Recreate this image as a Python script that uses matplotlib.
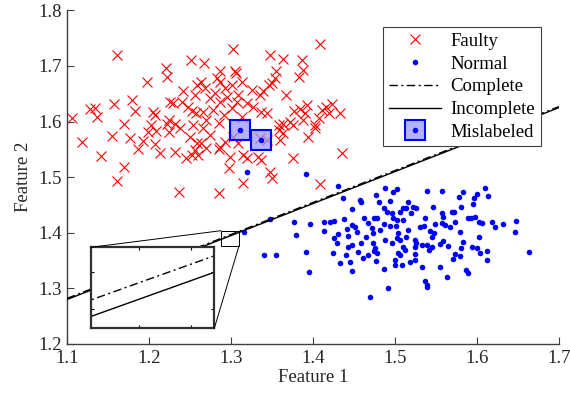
import matplotlib
matplotlib.use("Agg")
import matplotlib.pyplot as plt
from matplotlib.patches import Rectangle, ConnectionPatch
from matplotlib.legend_handler import HandlerTuple

plt.rcParams['font.family'] = ['Liberation Serif', 'DejaVu Serif']

# ---------------- data ----------------
faulty_x = [1.161, 1.251, 1.221, 1.222, 1.198, 1.242, 1.258, 1.179, 1.157, 1.128,
            1.134, 1.137, 1.183, 1.106, 1.205, 1.207, 1.225, 1.229, 1.240, 1.248,
            1.252, 1.257, 1.256, 1.170, 1.203, 1.224, 1.222, 1.232, 1.254, 1.238,
            1.118, 1.142, 1.155, 1.170, 1.161, 1.177, 1.186, 1.193, 1.199, 1.209,
            1.207, 1.213, 1.224, 1.232, 1.236, 1.245, 1.250, 1.252, 1.256, 1.258,
            1.260,
            1.302, 1.409, 1.348, 1.364, 1.387, 1.388, 1.383, 1.267, 1.355, 1.354,
            1.350, 1.305, 1.306, 1.286, 1.283, 1.287, 1.264, 1.314, 1.301, 1.293,
            1.268, 1.281, 1.325, 1.339, 1.346, 1.335, 1.367, 1.308, 1.295, 1.274,
            1.287, 1.307, 1.319, 1.327, 1.337, 1.344, 1.301, 1.278, 1.266, 1.291,
            1.313, 1.377, 1.384, 1.393, 1.390, 1.411, 1.416, 1.423, 1.419, 1.433,
            1.407, 1.372, 1.364, 1.359, 1.403, 1.388, 1.376, 1.285, 1.270,
            1.266, 1.274, 1.264, 1.270, 1.285, 1.287, 1.293, 1.299, 1.297, 1.315,
            1.319, 1.333, 1.337, 1.348, 1.350, 1.315, 1.285, 1.358, 1.364, 1.360,
            1.376, 1.394, 1.403, 1.435, 1.408, 1.303, 1.309, 1.335, 1.344]
faulty_y = [1.720, 1.711, 1.697, 1.681, 1.672, 1.655, 1.666, 1.639, 1.631, 1.623,
            1.625, 1.609, 1.619, 1.606, 1.617, 1.612, 1.635, 1.633, 1.636, 1.627,
            1.619, 1.615, 1.648, 1.595, 1.593, 1.603, 1.595, 1.595, 1.594, 1.588,
            1.563, 1.539, 1.575, 1.519, 1.493, 1.570, 1.551, 1.565, 1.582, 1.583,
            1.559, 1.543, 1.582, 1.545, 1.473, 1.534, 1.573, 1.540, 1.549, 1.561,
            1.540,
            1.731, 1.739, 1.720, 1.713, 1.711, 1.693, 1.681, 1.705, 1.691, 1.678,
            1.669, 1.691, 1.687, 1.691, 1.678, 1.672, 1.672, 1.672, 1.666, 1.660,
            1.660, 1.651, 1.657, 1.655, 1.666, 1.648, 1.647, 1.648, 1.645, 1.642,
            1.636, 1.636, 1.633, 1.627, 1.618, 1.615, 1.624, 1.621, 1.618, 1.612,
            1.609, 1.619, 1.623, 1.629, 1.615, 1.621, 1.627, 1.631, 1.615, 1.615,
            1.606, 1.599, 1.595, 1.594, 1.594, 1.603, 1.594, 1.597, 1.603,
            1.588, 1.576, 1.561, 1.552, 1.551, 1.555, 1.564, 1.537, 1.517, 1.540,
            1.534, 1.537, 1.531, 1.510, 1.499, 1.489, 1.471, 1.585, 1.579, 1.567,
            1.534, 1.573, 1.588, 1.543, 1.487, 1.573, 1.561, 1.570, 1.567]

normal_x = [1.502, 1.498, 1.539, 1.557, 1.583, 1.578, 1.596, 1.600, 1.610, 1.613,
            1.595, 1.494, 1.516, 1.514, 1.510, 1.522, 1.526, 1.520, 1.506, 1.496,
            1.498, 1.502, 1.510, 1.546, 1.581, 1.557, 1.559, 1.569, 1.572, 1.537,
            1.494, 1.501, 1.516, 1.530, 1.535, 1.549, 1.557, 1.561, 1.567, 1.573,
            1.589, 1.593, 1.598, 1.602, 1.606, 1.618, 1.622, 1.632, 1.648, 1.646,
            1.543, 1.547, 1.545, 1.579, 1.602, 1.504, 1.514, 1.502, 1.496, 1.506,
            1.524, 1.526, 1.533, 1.539, 1.545, 1.555, 1.559, 1.565, 1.583, 1.581,
            1.594, 1.600, 1.612, 1.663, 1.510, 1.512, 1.504, 1.506, 1.524, 1.524,
            1.541, 1.573, 1.579, 1.571, 1.604, 1.612, 1.500, 1.500, 1.508, 1.518,
            1.524, 1.533, 1.555, 1.587, 1.589, 1.563, 1.537, 1.539, 1.539,
            1.319, 1.391, 1.430, 1.437, 1.488, 1.477, 1.348, 1.316, 1.377, 1.396,
            1.413, 1.421, 1.426, 1.438, 1.413, 1.379, 1.425, 1.430, 1.441, 1.443,
            1.429, 1.448, 1.451, 1.454, 1.457, 1.459, 1.448, 1.462, 1.467, 1.472,
            1.474, 1.478, 1.481, 1.486, 1.490, 1.487, 1.482, 1.473, 1.465, 1.459,
            1.447, 1.443, 1.473, 1.476, 1.474, 1.478, 1.477, 1.467, 1.461, 1.455,
            1.440, 1.424, 1.433, 1.445, 1.448, 1.488, 1.487, 1.491, 1.469, 1.391,
            1.395, 1.340, 1.355]
normal_y = [1.479, 1.474, 1.475, 1.475, 1.473, 1.465, 1.463, 1.469, 1.481, 1.467,
            1.451, 1.457, 1.456, 1.445, 1.444, 1.447, 1.444, 1.435, 1.438, 1.435,
            1.426, 1.423, 1.423, 1.446, 1.446, 1.435, 1.429, 1.437, 1.437, 1.426,
            1.413, 1.413, 1.405, 1.411, 1.413, 1.415, 1.417, 1.414, 1.410, 1.420,
            1.427, 1.426, 1.429, 1.420, 1.417, 1.420, 1.411, 1.415, 1.422, 1.401,
            1.403, 1.399, 1.393, 1.401, 1.392, 1.399, 1.393, 1.390, 1.381, 1.387,
            1.387, 1.381, 1.378, 1.378, 1.375, 1.379, 1.385, 1.377, 1.383, 1.373,
            1.375, 1.372, 1.367, 1.365, 1.375, 1.369, 1.363, 1.360, 1.375, 1.361,
            1.369, 1.361, 1.359, 1.353, 1.363, 1.351, 1.351, 1.342, 1.342, 1.348,
            1.351, 1.339, 1.339, 1.333, 1.327, 1.320, 1.313, 1.306, 1.303,
            1.509, 1.506, 1.485, 1.463, 1.481, 1.468, 1.425, 1.401, 1.420, 1.415,
            1.420, 1.420, 1.422, 1.425, 1.403, 1.396, 1.391, 1.398, 1.406, 1.394,
            1.382, 1.414, 1.411, 1.402, 1.459, 1.455, 1.442, 1.427, 1.417, 1.408,
            1.426, 1.426, 1.456, 1.444, 1.438, 1.415, 1.405, 1.399, 1.393, 1.382,
            1.378, 1.375, 1.381, 1.373, 1.367, 1.363, 1.349, 1.360, 1.355, 1.365,
            1.360, 1.363, 1.346, 1.348, 1.331, 1.387, 1.335, 1.301, 1.284, 1.365,
            1.330, 1.360, 1.360]

mislabeled_x = [1.311, 1.337]
mislabeled_y = [1.584, 1.567]

# decision boundaries (endpoints at x-limits)
line_x = [1.1, 1.7]
complete_y = [1.2820, 1.6270]
incomplete_y = [1.2800, 1.6252]

xticks = [1.1, 1.2, 1.3, 1.4, 1.5, 1.6, 1.7]
yticks = [1.2, 1.3, 1.4, 1.5, 1.6, 1.7, 1.8]

# ---------------- figure ----------------
fig = plt.figure(figsize=(5.70, 4.04), dpi=100)
ax = fig.add_axes([67/570, 1-344/404, 492/570, 333.6/404])

FS = 13.5
axcol = '#404040'
txtcol = '#262626'
dashdot = (0, (6, 2.5, 1.5, 2.5))

h_f, = ax.plot(faulty_x, faulty_y, 'x', color='red', ms=7.5, mew=0.8, zorder=2)
h_n, = ax.plot(normal_x, normal_y, 'o', color='blue', ms=4, mew=0, zorder=2)
h_c, = ax.plot(line_x, complete_y, color='black', ls=dashdot, lw=1.0, zorder=3)
h_i, = ax.plot(line_x, incomplete_y, color='black', ls='-', lw=1.0, zorder=3)
h_sq, = ax.plot(mislabeled_x, mislabeled_y, 's', ms=15, mfc=(0.6, 0.6, 1.0, 0.75),
                mec='blue', mew=1.5, zorder=4)
h_dot, = ax.plot(mislabeled_x, mislabeled_y, 'o', color='blue', ms=4, mew=0, zorder=5)

ax.set_xlim(1.1, 1.7)
ax.set_ylim(1.2, 1.8)
ax.set_xticks(xticks)
ax.set_yticks(yticks)
ax.set_xticklabels([f'{v:.1f}' for v in xticks], fontsize=FS)
ax.set_yticklabels([f'{v:.1f}' for v in yticks], fontsize=FS)
ax.tick_params(direction='in', length=5, width=0.8, color=axcol, labelcolor=txtcol, pad=4)
for s in ['top', 'right']:
    ax.spines[s].set_visible(False)
for s in ['left', 'bottom']:
    ax.spines[s].set_color(axcol)
    ax.spines[s].set_linewidth(1.0)
ax.set_xlabel('Feature 1', fontsize=FS, color=txtcol, labelpad=2)
ax.set_ylabel('Feature 2', fontsize=FS, color=txtcol, labelpad=4)

leg = ax.legend([h_f, h_n, h_c, h_i, (h_sq, h_dot)],
                ['Faulty', 'Normal', 'Complete', 'Incomplete', 'Mislabeled'],
                handler_map={tuple: HandlerTuple(ndivide=1, pad=0)},
                loc='upper right', bbox_to_anchor=(0.963, 0.950),
                fontsize=FS, frameon=True, fancybox=False, edgecolor=axcol,
                framealpha=1, handlelength=2.8, handletextpad=0.5,
                labelspacing=0.3, borderpad=0.3, borderaxespad=0)
leg.get_frame().set_linewidth(0.8)
leg.set_zorder(10)

# ---------------- inset ----------------
ix0, ix1 = 1.2945, 1.3035
iy0, iy1 = 1.39051, 1.40001
axin = fig.add_axes([91/570, 1-328.3/404, 123.3/570, 81/404])
axin.plot(line_x, complete_y, color='black', ls=dashdot, lw=1.0)
axin.plot(line_x, incomplete_y, color='black', ls='-', lw=1.0)
axin.set_xlim(ix0, ix1)
axin.set_ylim(iy0, iy1)
axin.set_xticks([ix0 + 0.39*(ix1-ix0), ix0 + 0.81*(ix1-ix0)])
axin.set_yticks([iy0 + 0.235*(iy1-iy0), iy0 + 0.70*(iy1-iy0)])
axin.tick_params(direction='in', length=2.5, width=0.8, top=True, right=True,
                 labelbottom=False, labelleft=False)
for s in axin.spines.values():
    s.set_linewidth(1.6)
    s.set_color('#303030')

# rectangle marking the zoomed region on the main axes
rx0, rx1, ry0, ry1 = 1.2878, 1.3098, 1.3768, 1.4038
ax.add_patch(Rectangle((rx0, ry0), rx1-rx0, ry1-ry0, fill=False, ec='black', lw=0.7, zorder=6))
fig.add_artist(ConnectionPatch(xyA=(0, 1), coordsA=axin.transAxes, xyB=(rx0, ry1),
                               coordsB=ax.transData, color='black', lw=0.7))
fig.add_artist(ConnectionPatch(xyA=(1, 0), coordsA=axin.transAxes, xyB=(rx1, ry0),
                               coordsB=ax.transData, color='black', lw=0.7))

fig.savefig('out.png', dpi=100)
